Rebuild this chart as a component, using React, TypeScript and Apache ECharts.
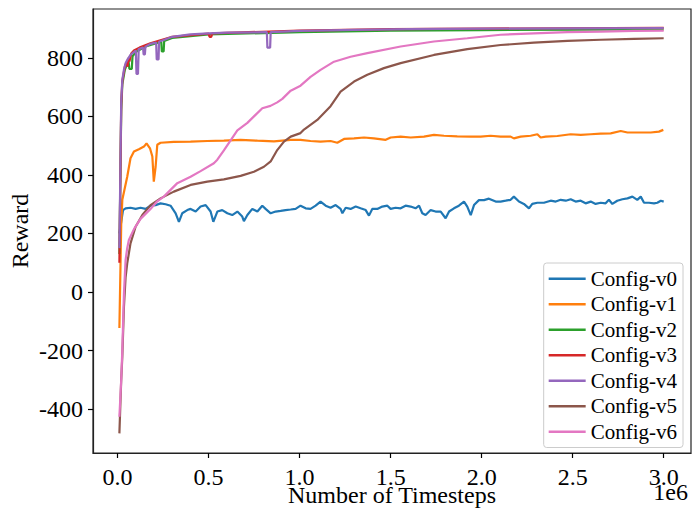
import React, { useEffect, useRef } from "react";
import * as echarts from "echarts";

// x values are in millions of timesteps (axis shows "1e6")
const seriesNames = ["Config-v0", "Config-v1", "Config-v2", "Config-v3", "Config-v4", "Config-v5", "Config-v6"];
const colors = ["#1f77b4", "#ff7f0e", "#2ca02c", "#d62728", "#9467bd", "#8c564b", "#e377c2"];
const xTicks = [0, 0.5, 1.0, 1.5, 2.0, 2.5, 3.0];
const yTicks = [-400, -200, 0, 200, 400, 600, 800];

const configV0: [number, number][] = [
  [0.01, 200], [0.03, 280], [0.044, 286], [0.071, 288], [0.099, 284], [0.126, 288], [0.154, 284], [0.181, 295],
  [0.209, 297], [0.236, 303], [0.264, 300], [0.291, 295], [0.319, 269], [0.337, 240], [0.355, 269], [0.383, 280],
  [0.401, 284], [0.429, 275], [0.456, 292], [0.484, 297], [0.511, 275], [0.526, 240], [0.548, 275], [0.575, 280],
  [0.603, 269], [0.63, 263], [0.658, 275], [0.685, 258], [0.694, 242], [0.713, 263], [0.74, 284], [0.768, 275],
  [0.795, 295], [0.813, 284], [0.841, 269], [0.868, 275], [0.896, 277], [0.923, 280], [0.951, 282], [0.978, 284],
  [1.005, 295], [1.033, 286], [1.06, 284], [1.088, 295], [1.115, 309], [1.143, 295], [1.17, 288], [1.198, 297],
  [1.225, 284], [1.235, 269], [1.253, 288], [1.28, 284], [1.308, 292], [1.335, 286], [1.363, 280], [1.381, 261],
  [1.399, 284], [1.427, 284], [1.454, 292], [1.482, 295], [1.5, 284], [1.527, 288], [1.555, 286], [1.582, 295],
  [1.61, 292], [1.637, 286], [1.656, 295], [1.674, 269], [1.692, 263], [1.72, 280], [1.747, 275], [1.775, 275],
  [1.802, 252], [1.821, 275], [1.848, 286], [1.875, 295], [1.903, 309], [1.921, 292], [1.94, 263], [1.958, 297],
  [1.985, 314], [2.013, 314], [2.04, 319], [2.077, 309], [2.104, 309], [2.132, 312], [2.159, 315], [2.177, 326],
  [2.205, 309], [2.232, 301], [2.26, 286], [2.278, 301], [2.306, 305], [2.342, 305], [2.379, 312], [2.407, 309],
  [2.434, 315], [2.462, 312], [2.489, 317], [2.516, 309], [2.544, 312], [2.571, 303], [2.599, 309], [2.626, 301],
  [2.654, 305], [2.681, 303], [2.699, 315], [2.718, 301], [2.745, 312], [2.773, 317], [2.801, 320], [2.828, 326],
  [2.855, 315], [2.874, 326], [2.892, 305], [2.919, 305], [2.947, 303], [2.965, 305], [2.984, 312], [3.0, 309],
];

const configV1: [number, number][] = [
  [0.01, -123], [0.02, 230], [0.026, 315], [0.053, 394], [0.071, 457], [0.09, 480], [0.117, 488], [0.145, 497],
  [0.159, 508], [0.178, 491], [0.191, 463], [0.199, 377], [0.209, 428], [0.218, 503], [0.236, 510], [0.309, 513],
  [0.401, 514], [0.493, 516], [0.584, 517], [0.676, 520], [0.768, 517], [0.859, 515], [0.951, 520], [1.005, 520],
  [1.06, 516], [1.115, 514], [1.17, 516], [1.207, 510], [1.244, 523], [1.299, 525], [1.354, 528], [1.408, 525],
  [1.473, 520], [1.5, 528], [1.555, 531], [1.61, 528], [1.683, 531], [1.738, 537], [1.793, 534], [1.866, 532],
  [1.94, 531], [1.995, 531], [2.049, 534], [2.104, 531], [2.159, 531], [2.177, 525], [2.214, 531], [2.269, 534],
  [2.306, 539], [2.324, 528], [2.352, 531], [2.416, 533], [2.489, 539], [2.544, 537], [2.599, 539], [2.654, 541],
  [2.709, 542], [2.764, 550], [2.801, 545], [2.874, 545], [2.929, 545], [2.974, 548], [2.998, 554],
];

const configV2: [number, number][] = [
  [0.01, 130], [0.02, 620], [0.026, 710], [0.04, 760], [0.06, 790], [0.065, 762], [0.078, 762], [0.082, 805],
  [0.1, 820], [0.15, 838], [0.24, 855], [0.243, 822], [0.253, 822], [0.256, 858], [0.3, 868], [0.5, 880],
  [1.0, 888], [1.5, 893], [2.0, 895], [3.0, 897],
];

const configV3: [number, number][] = [
  [0.01, 100], [0.02, 640], [0.026, 720], [0.04, 770], [0.05, 785], [0.055, 770], [0.06, 800], [0.065, 788],
  [0.075, 815], [0.09, 825], [0.12, 835], [0.18, 850], [0.3, 872], [0.5, 883], [0.505, 872], [0.515, 872],
  [0.52, 884], [1.0, 893], [1.5, 898], [2.0, 900], [3.0, 903],
];

const configV4: [number, number][] = [
  [0.01, 150], [0.02, 650], [0.026, 725], [0.035, 760], [0.044, 782], [0.055, 795], [0.071, 810], [0.09, 820],
  [0.1, 825], [0.104, 745], [0.112, 745], [0.116, 830], [0.14, 835], [0.143, 812], [0.15, 812], [0.153, 838],
  [0.18, 848], [0.212, 852], [0.215, 795], [0.225, 795], [0.228, 855], [0.3, 872], [0.4, 880], [0.5, 884],
  [0.6, 886], [0.82, 888], [0.823, 835], [0.838, 835], [0.841, 888], [1.0, 892], [1.3, 896], [1.6, 898],
  [2.0, 900], [2.5, 901], [3.0, 902],
];

const configV5: [number, number][] = [
  [0.01, -483], [0.02, -300], [0.026, -221], [0.035, -50], [0.044, 50], [0.053, 98], [0.071, 166], [0.099, 223],
  [0.136, 263], [0.181, 297], [0.236, 320], [0.309, 343], [0.401, 366], [0.493, 377], [0.584, 385], [0.676, 397],
  [0.749, 411], [0.804, 428], [0.841, 446], [0.877, 485], [0.914, 514], [0.951, 531], [1.005, 543], [1.024, 555],
  [1.097, 588], [1.17, 635], [1.225, 685], [1.299, 719], [1.372, 742], [1.463, 765], [1.555, 782], [1.738, 810],
  [1.921, 830], [2.104, 844], [2.287, 852], [2.471, 858], [2.654, 862], [2.837, 865], [3.0, 867],
];

const configV6: [number, number][] = [
  [0.01, -426], [0.02, -300], [0.026, -198], [0.035, -5], [0.044, 109], [0.053, 150], [0.062, 178], [0.09, 215],
  [0.126, 250], [0.181, 284], [0.218, 310], [0.254, 326], [0.328, 372], [0.401, 394], [0.456, 413], [0.529, 440],
  [0.548, 452], [0.584, 484], [0.658, 552], [0.713, 578], [0.795, 628], [0.84, 636], [0.877, 648], [0.905, 660],
  [0.951, 688], [1.005, 705], [1.06, 735], [1.115, 759], [1.189, 787], [1.28, 804], [1.372, 816], [1.555, 839],
  [1.738, 856], [1.921, 867], [2.104, 879], [2.287, 884], [2.471, 888], [2.654, 890], [2.837, 892], [3.0, 893],
];

const allData = [configV0, configV1, configV2, configV3, configV4, configV5, configV6];

const FONT = "Liberation Serif";

export default function App() {
  const ref = useRef<HTMLDivElement>(null);
  useEffect(() => {
    if (!ref.current) return;
    const chart = echarts.init(ref.current, undefined, { renderer: "svg" });
    const labelStyle = { fontFamily: FONT, fontSize: 24, color: "#000" };
    chart.setOption({
      animation: false,
      backgroundColor: "#ffffff",
      color: colors,
      textStyle: { fontFamily: FONT, fontSize: 24, color: "#000" },
      grid: {
        left: 93,
        right: 3,
        top: 9,
        bottom: 59,
        show: true,
        borderColor: "#222",
        borderWidth: 1.2,
        backgroundColor: "#ffffff",
        containLabel: false,
        outerBoundsMode: "none",
      },
      legend: {
        orient: "vertical",
        right: 11,
        top: 263,
        icon: "rect",
        itemWidth: 37,
        itemHeight: 2.5,
        itemGap: 0,
        padding: [3, 6, 3, 5],
        borderColor: "#cccccc",
        borderWidth: 1,
        borderRadius: 3,
        backgroundColor: "rgba(255,255,255,0.8)",
        textStyle: { fontFamily: FONT, fontSize: 21, color: "#000", lineHeight: 25.5 },
        data: seriesNames,
      },
      xAxis: {
        type: "value",
        min: -0.135,
        max: 3.15,
        name: "Number of Timesteps",
        nameLocation: "middle",
        nameGap: 30,
        nameMoveOverlap: false,
        nameTextStyle: labelStyle,
        axisLine: { show: true, onZero: false, lineStyle: { color: "#222", width: 1.2 } },
        splitLine: { show: false },
        axisTick: { show: true, inside: false, length: 5, customValues: xTicks, lineStyle: { color: "#000", width: 1.2 } },
        axisLabel: {
          show: true,
          customValues: xTicks,
          margin: 12,
          fontFamily: FONT,
          fontSize: 24,
          color: "#000",
          formatter: (v: number) => v.toFixed(1),
        },
      },
      yAxis: {
        type: "value",
        min: -550,
        max: 967,
        name: "Reward",
        nameLocation: "middle",
        nameGap: 61,
        nameMoveOverlap: false,
        nameTextStyle: labelStyle,
        axisLine: { show: true, onZero: false, lineStyle: { color: "#222", width: 1.2 } },
        splitLine: { show: false },
        axisTick: { show: true, inside: false, length: 5, customValues: yTicks, lineStyle: { color: "#000", width: 1.2 } },
        axisLabel: {
          show: true,
          customValues: yTicks,
          margin: 10,
          fontFamily: FONT,
          fontSize: 24,
          color: "#000",
          formatter: (v: number) => String(v),
        },
      },
      graphic: [
        {
          type: "text",
          right: 6,
          top: 480,
          style: { text: "1e6", fontFamily: FONT, fontSize: 24, fill: "#000" },
        },
      ],
      series: allData.map((d, i) => ({
        name: seriesNames[i],
        type: "line",
        data: d,
        showSymbol: false,
        symbol: "none",
        clip: true,
        lineStyle: { width: 2.2, color: colors[i] },
        itemStyle: { color: colors[i] },
      })),
    });
    return () => chart.dispose();
  }, []);
  return (
    <div
      ref={ref}
      style={{ position: "fixed", left: 0, top: 0, width: 694, height: 512, background: "#fff" }}
    />
  );
}
